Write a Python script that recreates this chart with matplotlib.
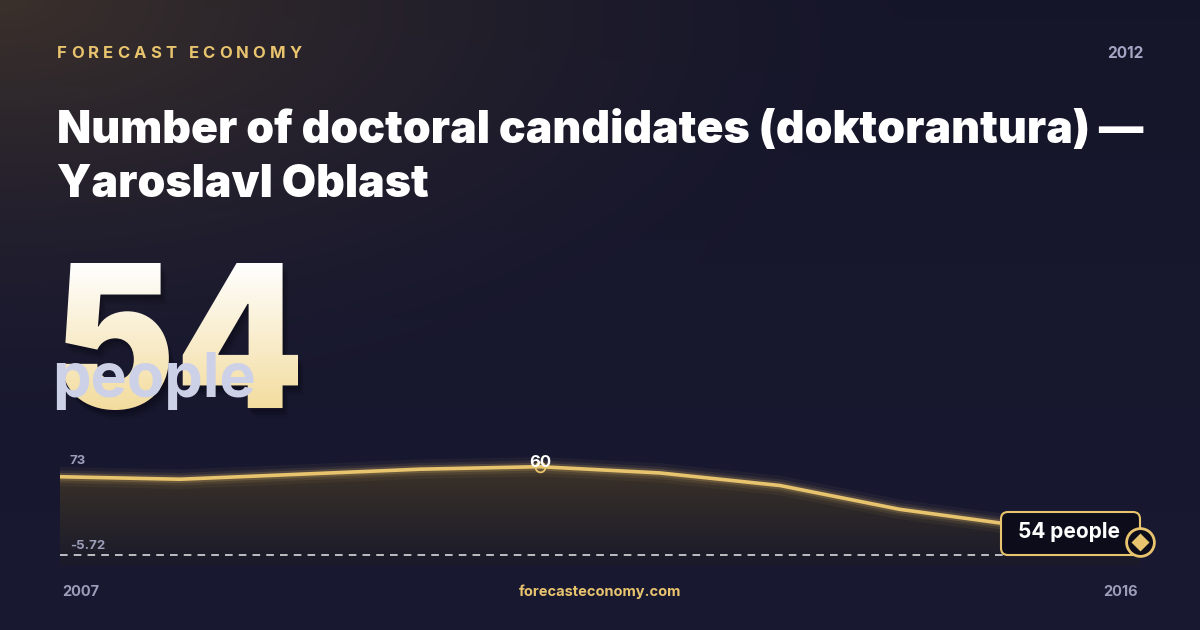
import matplotlib.pyplot as plt
import numpy as np
from matplotlib.textpath import TextPath
from matplotlib.font_manager import FontProperties
from matplotlib.patches import PathPatch, FancyBboxPatch
from matplotlib.colors import LinearSegmentedColormap
import matplotlib.transforms as mtransforms

# data
years = [2007, 2008, 2009, 2010, 2011, 2012, 2013, 2014, 2015, 2016]
values = [59.2, 59.0, 59.4, 59.8, 60.0, 59.5, 58.5, 56.6, 55.3, 54.0]
peak_label = "60"
last_label = "54 people"
big_value = "54"
unit = "people"
axis_top_label = "73"
axis_bottom_label = "-5.72"
header_year = "2012"
title_lines = ["Number of doctoral candidates (doktorantura) —", "Yaroslavl Oblast"]

GOLD = "#e9c46e"
GREY = "#9c9db8"
W, H = 1200, 630

fig = plt.figure(figsize=(12, 6.3), dpi=100)

# background, navy with a warm glow top left
bg = fig.add_axes([0, 0, 1, 1])
bg.set_xlim(0, W)
bg.set_ylim(H, 0)
bg.axis("off")
yy, xx = np.mgrid[0:H, 0:W]
d = np.sqrt((xx / 900.0) ** 2 + (yy / 420.0) ** 2)
warm = np.clip(1 - d, 0, 1) ** 1.5
base = np.array([0.086, 0.086, 0.165])
glow = np.array([0.23, 0.19, 0.17])
img = base[None, None, :] * (1 - warm[..., None]) + glow[None, None, :] * warm[..., None]
img = img + (yy[..., None] / H) * np.array([0.01, 0.01, 0.03])
bg.imshow(img, extent=[0, W, H, 0], zorder=0, aspect="auto")

# header, letter spaced
fig.canvas.draw()
renderer = fig.canvas.get_renderer()
fp_head = FontProperties(family="Inter", weight="bold", size=12)
x = 57
for ch in "FORECAST ECONOMY":
    t = bg.text(x, 53, ch, color=GOLD, fontproperties=fp_head, va="center", ha="left")
    w = t.get_window_extent(renderer).width if ch != " " else 4
    x += w + 4.1
bg.text(1143, 54, header_year, color="#a4a6c4", fontsize=11, fontweight="bold",
        family="Inter", ha="right", va="center")

for i, line in enumerate(title_lines):
    bg.text(57, 143 + i * 54, line, color="white", fontsize=32, fontweight="black",
            family="Inter", ha="left", va="baseline")

# big number with vertical gradient
fp_big = FontProperties(family="Inter", weight="black")
tp = TextPath((0, 0), big_value, size=200, prop=fp_big)
ext = tp.get_extents()
sx = 236.0 / ext.width
sy = 147.0 / ext.height
tr = (mtransforms.Affine2D().translate(-ext.x0, -ext.y0).scale(sx, -sy)
      .translate(62, 410) + bg.transData)
for dx, dy, a in [(2, 4, 0.12), (4, 7, 0.10), (6, 10, 0.08)]:
    bg.add_patch(PathPatch(tp, transform=mtransforms.Affine2D().translate(dx, -dy) + tr,
                           facecolor="black", edgecolor="none", alpha=a, zorder=2))
num = PathPatch(tp, transform=tr, facecolor="none", edgecolor="none", zorder=3)
bg.add_patch(num)
grad_cmap = LinearSegmentedColormap.from_list("g", ["#ffffff", "#f3dc9e"])
gimg = bg.imshow(np.linspace(0, 1, 100)[:, None], extent=[55, 305, 410, 262],
                 cmap=grad_cmap, aspect="auto", zorder=3)
gimg.set_clip_path(num)

bg.text(52, 397, unit, color="#cdd1e8", fontsize=44, fontweight="bold",
        family="Inter", ha="left", va="baseline", zorder=4)

# chart
ax = fig.add_axes([60 / W, (H - 565) / H, 1080 / W, 110 / H])
ax.set_facecolor("none")
ax.axis("off")
ax.set_xlim(years[0], years[-1])
ymin, ymax = 52.17, 60.93
ax.set_ylim(ymin, ymax)

ax.axhspan(ymin, ymin + 1.0, color="#121222", alpha=0.8, zorder=0)

# gradient fill below the line
fill = ax.fill_between(years, values, ymin, facecolor="none", edgecolor="none")
fcmap = LinearSegmentedColormap.from_list("f", ["#3b3228", "#1a1a2a"])
fimg = ax.imshow(np.linspace(0, 1, 100)[:, None], extent=[years[0], years[-1], ymin, max(values)],
                 cmap=fcmap, aspect="auto", zorder=1, origin="upper")
fimg.set_clip_path(fill.get_paths()[0], transform=ax.transData)

for lw, a in [(14, 0.05), (9, 0.09), (5.5, 0.18)]:
    ax.plot(years, values, color=GOLD, lw=lw, alpha=a, solid_capstyle="round", zorder=2)
ax.plot(years, values, color=GOLD, lw=2.6, zorder=3)

baseline = 53.0
ax.axhline(baseline, color="white", lw=1.1, ls=(0, (5, 4)), alpha=0.9, zorder=2)

# peak marker
ip = int(np.argmax(values))
ax.plot(years[ip], values[ip], marker="o", ms=7, mfc="none", mec=GOLD, mew=1.3, zorder=4)
ax.annotate(peak_label, (years[ip], values[ip]), xytext=(0, 3), textcoords="offset points",
            color="white", fontsize=12, fontweight="bold", family="Inter",
            ha="center", va="center", zorder=5)

# overlay for labels on top of the chart
top = fig.add_axes([0, 0, 1, 1])
top.set_xlim(0, W)
top.set_ylim(H, 0)
top.axis("off")
top.patch.set_alpha(0)

top.text(70, 461, axis_top_label, color=GREY, fontsize=9.5, family="Inter",
         fontweight="bold", ha="left", va="center")
top.text(70, 546, axis_bottom_label, color=GREY, fontsize=9.5, family="Inter",
         fontweight="bold", ha="left", va="center")

box = FancyBboxPatch((1001, 512), 139, 43, boxstyle="round,pad=0,rounding_size=7",
                     facecolor="#0c0c1a", edgecolor=GOLD, lw=1.5, zorder=6)
top.add_patch(box)
top.text(1069, 532, last_label, color="white", fontsize=15, fontweight="bold",
         family="Inter", ha="center", va="center", zorder=7)
end_px = ax.transData.transform((years[-1], values[-1]))
ex, ey = top.transData.inverted().transform(end_px)
top.plot(ex, ey, marker="o", ms=20, mfc="#0c0c1a", mec=GOLD, mew=2, zorder=8, clip_on=False)
top.plot(ex, ey, marker="D", ms=9, mfc=GOLD, mec="none", zorder=9, clip_on=False)

# footer
top.text(62, 592, str(years[0]), color=GREY, fontsize=10.5, fontweight="bold",
         family="Inter", ha="left", va="center")
top.text(1138, 592, str(years[-1]), color=GREY, fontsize=10.5, fontweight="bold",
         family="Inter", ha="right", va="center")
top.text(600, 592, "forecasteconomy.com", color=GOLD, fontsize=10.5, fontweight="bold",
         family="Inter", ha="center", va="center")

fig.savefig("out.png", dpi=100)
